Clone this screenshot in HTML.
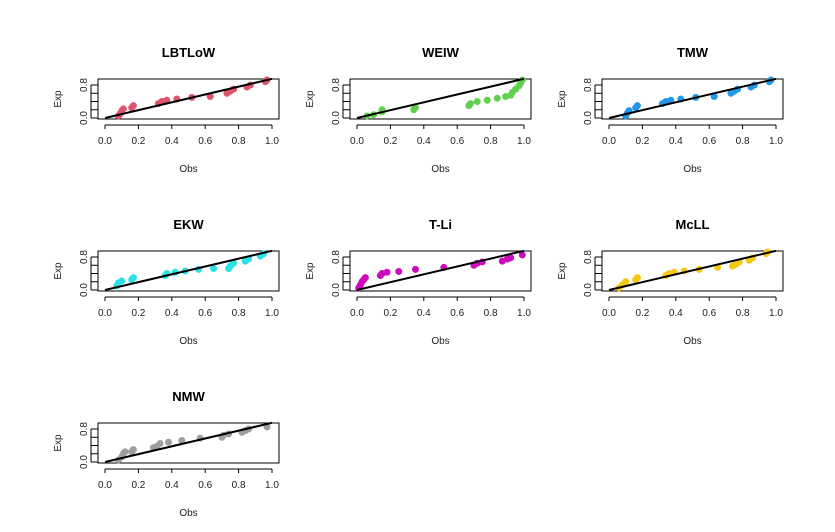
<!DOCTYPE html>
<html><head><meta charset="utf-8"><style>
body{margin:0;background:#fff;}
svg{display:block;font-family:"Liberation Sans Narrow","Liberation Sans",Arial,sans-serif;}
</style></head><body>
<svg id="c" width="835" height="532"></svg>
<script>
const titles=["LBTLoW","WEIW","TMW","EKW","T-Li","McLL","NMW"];
const colors=["#DF536B","#61D04F","#2297E6","#28E2E5","#CD0BBC","#F5C710","#9E9E9E"];
const obsLBTLoW=[0.08,0.09,0.1,0.11,0.16,0.17,0.32,0.34,0.37,0.43,0.52,0.63,0.73,0.75,0.77,0.85,0.87,0.96,0.97];
const expLBTLoW=[0.05,0.1,0.17,0.22,0.25,0.3,0.35,0.4,0.43,0.46,0.5,0.52,0.6,0.65,0.7,0.75,0.8,0.88,0.92];
const obsWEIW=[0.06,0.1,0.15,0.15,0.34,0.35,0.67,0.68,0.72,0.78,0.84,0.89,0.92,0.93,0.95,0.97,0.98,0.99];
const expWEIW=[0.05,0.08,0.15,0.2,0.2,0.25,0.3,0.35,0.4,0.43,0.48,0.52,0.55,0.62,0.7,0.78,0.85,0.92];
const obsTMW=[0.1,0.11,0.12,0.16,0.17,0.32,0.34,0.37,0.43,0.52,0.63,0.73,0.75,0.77,0.85,0.87,0.96,0.97];
const expTMW=[0.05,0.12,0.18,0.25,0.3,0.35,0.4,0.43,0.46,0.5,0.52,0.6,0.65,0.7,0.75,0.8,0.88,0.92];
const obsEKW=[0.07,0.08,0.1,0.16,0.17,0.36,0.37,0.42,0.48,0.56,0.65,0.74,0.75,0.77,0.84,0.86,0.93,0.95];
const expEKW=[0.1,0.17,0.22,0.25,0.3,0.35,0.4,0.43,0.46,0.5,0.52,0.52,0.58,0.65,0.7,0.75,0.82,0.88];
const obsTLi=[0.01,0.02,0.03,0.04,0.05,0.14,0.15,0.18,0.25,0.35,0.52,0.7,0.72,0.75,0.87,0.9,0.92,0.99];
const expTLi=[0.05,0.12,0.2,0.25,0.3,0.35,0.4,0.43,0.45,0.5,0.55,0.6,0.65,0.68,0.7,0.75,0.78,0.85];
const obsMcLL=[0.06,0.08,0.1,0.16,0.17,0.34,0.36,0.39,0.45,0.54,0.65,0.74,0.76,0.78,0.84,0.86,0.94,0.95];
const expMcLL=[0.05,0.12,0.2,0.25,0.3,0.35,0.4,0.43,0.46,0.5,0.55,0.58,0.62,0.68,0.72,0.78,0.88,0.92];
const obsNMW=[0.08,0.1,0.11,0.12,0.16,0.17,0.29,0.31,0.33,0.38,0.46,0.57,0.7,0.71,0.74,0.82,0.84,0.86,0.97];
const expNMW=[0.05,0.12,0.2,0.25,0.25,0.3,0.35,0.38,0.45,0.48,0.52,0.58,0.6,0.65,0.68,0.72,0.76,0.8,0.85];
const obsAll=[obsLBTLoW,obsWEIW,obsTMW,obsEKW,obsTLi,obsMcLL,obsNMW];
const expAll=[expLBTLoW,expWEIW,expTMW,expEKW,expTLi,expMcLL,expNMW];
const xTicks=["0.0","0.2","0.4","0.6","0.8","1.0"];
const yTickVals=[0,0.2,0.4,0.6,0.8];

const svg=document.getElementById('c');
const NS="http://www.w3.org/2000/svg";
function mk(tag,attrs,parent){const e=document.createElementNS(NS,tag);for(const k in attrs)e.setAttribute(k,attrs[k]);(parent||svg).appendChild(e);return e;}
titles.forEach((t,i)=>{
  const col=i%3,row=Math.floor(i/3);
  const ox=col*252,oy=row*172;
  const g=mk('g',{});
  
  
  const x0=105+ox,x1=272+ox,y0=118+oy,y08=85+oy;
  const sx=v=>x0+v*(x1-x0);
  const sy=v=>y0-v*(y0-y08)/0.8;
  const ti=mk('text',{x:(x0+x1)/2,y:57+oy,'text-anchor':'middle','font-size':13,'font-weight':'bold'},g);ti.textContent=t;
  
  const box=mk('rect',{x:98+ox,y:79+oy,width:181,height:40,fill:'none',stroke:'#000','stroke-width':1},g);
  
  xTicks.forEach((l,k)=>{const x=sx(k*0.2);
    mk('line',{x1:x,x2:x,y1:125+oy,y2:129+oy,stroke:'#000'},g);
    const tt=mk('text',{x:x,y:144+oy,'text-anchor':'middle','font-size':10,fill:'#222'},g);tt.textContent=l;
    });
  mk('line',{x1:x0,x2:x1,y1:125+oy,y2:125+oy,stroke:'#000'},g);
  yTickVals.forEach(v=>{const y=sy(v);mk('line',{x1:91+ox,x2:98+ox,y1:y,y2:y,stroke:'#000'},g);});
  mk('line',{x1:91+ox,x2:91+ox,y1:sy(0),y2:sy(0.8),stroke:'#000'},g);
  [["0.0",0],["0.8",0.8]].forEach(([l,v])=>{const y=sy(v);
    const tt=mk('text',{x:0,y:0,'text-anchor':'middle','font-size':10,fill:'#222',transform:`translate(${87+ox},${y}) rotate(-90)`},g);tt.textContent=l;
    });
  const xl=mk('text',{x:(x0+x1)/2,y:172+oy,'text-anchor':'middle','font-size':10,fill:'#222'},g);xl.textContent="Obs";
  
  const yl=mk('text',{x:0,y:0,'text-anchor':'middle','font-size':10,fill:'#222',transform:`translate(${61+ox},${99+oy}) rotate(-90)`},g);yl.textContent="Exp";
  
  obsAll[i].forEach((o,k)=>{const p=mk('circle',{cx:sx(o),cy:sy(expAll[i][k]),r:3.5,fill:colors[i]},g);
    });
  const ln=mk('line',{x1:sx(0),y1:sy(0),x2:sx(1),y2:sy(0.95),stroke:'#000','stroke-width':2},g);
  
});
</script>
</body></html>
